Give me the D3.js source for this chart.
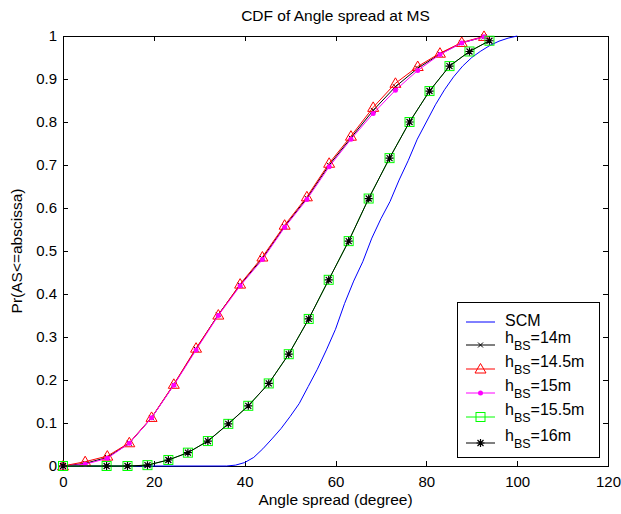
<!DOCTYPE html>
<html>
<head>
<meta charset="utf-8">
<script src="https://cdn.jsdelivr.net/npm/d3@7"></script>
<style>
  html, body { margin: 0; padding: 0; background: #fff; }
  svg { display: block; }
  text { font-family: Arial, "Liberation Sans", Helvetica, sans-serif; fill: #000; }
</style>
</head>
<body>
<svg id="chart" width="621" height="514"></svg>
<script>
// CDF of angle spread at the mobile station, for several BS heights.

// SCM reference curve (no markers)
const scmAngle = [0, 36, 38, 40, 42, 44, 46, 48, 50, 52, 54, 56, 58, 60, 62, 64, 66, 68, 70,
                  72, 74, 76, 78, 80, 82, 84, 86, 88, 90, 92, 94, 96, 98, 100];
const scmCdf   = [0, 0, 0.002, 0.008, 0.02, 0.04, 0.063, 0.087, 0.115, 0.145, 0.185, 0.225, 0.27, 0.318,
                  0.378, 0.43, 0.475, 0.53, 0.575, 0.615, 0.665, 0.71, 0.76, 0.80, 0.84, 0.875,
                  0.905, 0.93, 0.95, 0.965, 0.978, 0.988, 0.995, 1.0];

// Lower heights (14 m, 14.5 m, 15 m)
const angleLow = [0, 4.88, 9.76, 14.6, 19.5, 24.4, 29.3, 34.2, 39.0, 43.9, 48.8, 53.7, 58.6,
                  63.4, 68.3, 73.2, 78.1, 83.0, 87.8, 92.7];
const cdf14   = [0, 0.006, 0.020, 0.053, 0.112, 0.189, 0.272, 0.352, 0.421, 0.483, 0.557, 0.623,
                 0.700, 0.763, 0.827, 0.882, 0.925, 0.958, 0.984, 0.998];
const cdf14_5 = [0, 0.010, 0.023, 0.054, 0.113, 0.190, 0.274, 0.351, 0.423, 0.486, 0.560, 0.626,
                 0.704, 0.767, 0.834, 0.890, 0.929, 0.960, 0.985, 0.999];
const cdf15   = [0, 0.004, 0.018, 0.053, 0.112, 0.188, 0.270, 0.350, 0.419, 0.480, 0.555, 0.620,
                 0.696, 0.760, 0.820, 0.874, 0.920, 0.957, 0.984, 0.998];

// Higher heights (15.5 m, 16 m)
const angleHigh = [0, 9.6, 14.2, 18.6, 23.2, 27.5, 31.9, 36.4, 40.8, 45.3, 49.7, 54.1, 58.5,
                   62.9, 67.3, 71.9, 76.3, 80.7, 85.1, 89.5, 93.9];
const cdf15_5 = [0, 0, 0, 0.002, 0.014, 0.031, 0.058, 0.098, 0.140, 0.192, 0.260, 0.342, 0.433,
                 0.523, 0.622, 0.716, 0.800, 0.872, 0.930, 0.964, 0.989];
const cdf16   = [0, 0, 0, 0.002, 0.014, 0.031, 0.058, 0.098, 0.140, 0.192, 0.260, 0.342, 0.433,
                 0.523, 0.622, 0.716, 0.800, 0.872, 0.930, 0.964, 0.989];

const xTicks = [0, 20, 40, 60, 80, 100, 120];
const yTicks = [0, 0.1, 0.2, 0.3, 0.4, 0.5, 0.6, 0.7, 0.8, 0.9, 1];

const titleText = "CDF of Angle spread at MS";
const xLabelText = "Angle spread (degree)";
const yLabelText = "Pr(AS<=abscissa)";

const series = [
  { name: "SCM",   sub: null, x: scmAngle,  y: scmCdf,  color: "#0000ff", marker: "none" },
  { name: "h",     sub: "BS", tail: "=14m",   x: angleLow,  y: cdf14,   color: "#000000", marker: "x" },
  { name: "h",     sub: "BS", tail: "=14.5m", x: angleLow,  y: cdf14_5, color: "#ff0000", marker: "triangle" },
  { name: "h",     sub: "BS", tail: "=15m",   x: angleLow,  y: cdf15,   color: "#ff00ff", marker: "dot" },
  { name: "h",     sub: "BS", tail: "=15.5m", x: angleHigh, y: cdf15_5, color: "#00ff00", marker: "square" },
  { name: "h",     sub: "BS", tail: "=16m",   x: angleHigh, y: cdf16,   color: "#000000", marker: "star" }
];

const svg = d3.select("#chart");
const L = 63, R = 608, T = 36, B = 466;
const x = d3.scaleLinear().domain([0, 120]).range([L, R]);
const y = d3.scaleLinear().domain([0, 1]).range([B, T]);

// Axes with inward ticks on all four sides
const fontSize = "15px";
const gx = svg.append("g").attr("transform", `translate(0,${B})`)
  .call(d3.axisBottom(x).tickValues(xTicks).tickFormat(d3.format("d"))
        .tickSizeInner(-5).tickSizeOuter(0).tickPadding(10));
const gy = svg.append("g").attr("transform", `translate(${L},0)`)
  .call(d3.axisLeft(y).tickValues(yTicks).tickFormat(d => d3.format("")(d))
        .tickSizeInner(-5).tickSizeOuter(0).tickPadding(6));
const gt = svg.append("g").attr("transform", `translate(0,${T})`)
  .call(d3.axisTop(x).tickValues(xTicks).tickFormat("").tickSizeInner(-5).tickSizeOuter(0));
const gr = svg.append("g").attr("transform", `translate(${R},0)`)
  .call(d3.axisRight(y).tickValues(yTicks).tickFormat("").tickSizeInner(-5).tickSizeOuter(0));

[gx, gy, gt, gr].forEach(g => {
  g.select(".domain").remove();
  g.selectAll(".tick line").attr("stroke", "#000").attr("shape-rendering", "crispEdges");
  g.selectAll("text").attr("font-size", fontSize).attr("fill", "#000")
    .attr("font-family", "Arial, 'Liberation Sans', sans-serif");
});

// Box around the plot area
svg.append("rect").attr("x", L).attr("y", T).attr("width", R - L).attr("height", B - T)
  .attr("fill", "none").attr("stroke", "#000").attr("stroke-width", 1)
  .attr("shape-rendering", "crispEdges");

// Marker drawing helpers
function drawMarker(g, kind, color, cx, cy) {
  if (kind === "triangle") {
    g.append("path").attr("d", `M${cx},${cy - 5.5}L${cx + 5.5},${cy + 4}L${cx - 5.5},${cy + 4}Z`)
      .attr("fill", "none").attr("stroke", color).attr("stroke-width", 1);
  } else if (kind === "square") {
    g.append("rect").attr("x", cx - 4.5).attr("y", cy - 4.5).attr("width", 9).attr("height", 9)
      .attr("fill", "none").attr("stroke", color).attr("stroke-width", 1);
  } else if (kind === "dot") {
    g.append("circle").attr("cx", cx).attr("cy", cy).attr("r", 2.5).attr("fill", color);
  } else if (kind === "x") {
    const s = 2.5;
    g.append("path").attr("d", `M${cx - s},${cy - s}L${cx + s},${cy + s}M${cx - s},${cy + s}L${cx + s},${cy - s}`)
      .attr("stroke", color).attr("stroke-width", 1);
  } else if (kind === "star") {
    const s = 4, d = 3;
    g.append("path").attr("d",
      `M${cx - s},${cy}L${cx + s},${cy}M${cx},${cy - s}L${cx},${cy + s}` +
      `M${cx - d},${cy - d}L${cx + d},${cy + d}M${cx - d},${cy + d}L${cx + d},${cy - d}`)
      .attr("stroke", color).attr("stroke-width", 1.2);
  }
}

const line = d3.line().x(d => x(d[0])).y(d => y(d[1]));
const plot = svg.append("g");
series.forEach(s => {
  const pts = s.x.map((v, i) => [v, s.y[i]]);
  const g = plot.append("g");
  g.append("path").datum(pts).attr("d", line)
    .attr("fill", "none").attr("stroke", s.color).attr("stroke-width", 1);
  if (s.marker !== "none") pts.forEach(p => drawMarker(g, s.marker, s.color, x(p[0]), y(p[1])));
});

// Title and axis labels
svg.append("text").attr("x", (L + R) / 2).attr("y", 21).attr("text-anchor", "middle")
  .attr("font-size", "15.5px").text(titleText);
svg.append("text").attr("x", (L + R) / 2).attr("y", 505).attr("text-anchor", "middle")
  .attr("font-size", "15.5px").text(xLabelText);
svg.append("text").attr("transform", `translate(22,${(T + B) / 2}) rotate(-90)`)
  .attr("text-anchor", "middle").attr("font-size", "15.5px").text(yLabelText);

// Legend
const lg = svg.append("g");
lg.append("rect").attr("x", 457).attr("y", 302).attr("width", 142).attr("height", 155)
  .attr("fill", "#fff").attr("stroke", "#000").attr("stroke-width", 1)
  .attr("shape-rendering", "crispEdges");
const rowY = [322, 345, 369, 393, 417, 443];
series.forEach((s, i) => {
  const ly = rowY[i];
  lg.append("line").attr("x1", 466).attr("x2", 495).attr("y1", ly).attr("y2", ly)
    .attr("stroke", s.color).attr("stroke-width", 1);
  if (s.marker !== "none") drawMarker(lg, s.marker, s.color, 480.5, ly);
  if (!s.sub) {
    lg.append("text").attr("x", 505).attr("y", ly + 4).attr("font-size", "16px").text(s.name);
  } else {
    const t = lg.append("text").attr("x", 505).attr("y", ly - 2).attr("font-size", "16px");
    t.append("tspan").text(s.name);
    t.append("tspan").attr("dy", 7).attr("font-size", "12.5px").text(s.sub);
    t.append("tspan").attr("dy", -7).text(s.tail);
  }
});
</script>
</body>
</html>
